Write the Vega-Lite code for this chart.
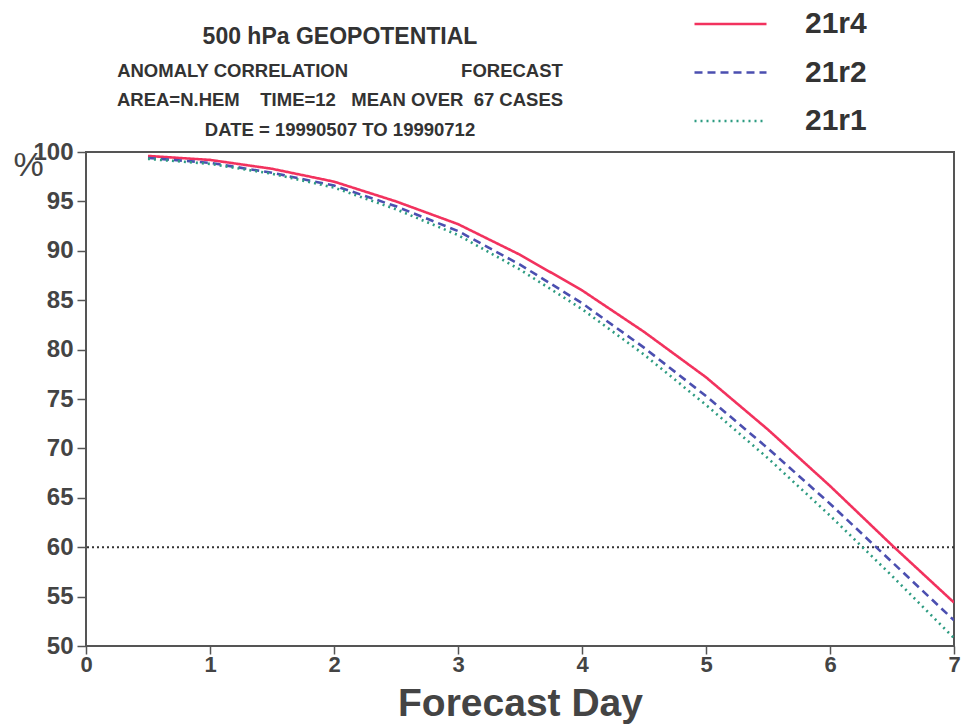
{
  "$schema": "https://vega.github.io/schema/vega-lite/v6.json",
  "autosize": {"type": "none"},
  "padding": {"left": 86, "top": 152, "right": 7, "bottom": 78},
  "width": 868,
  "height": 494,
  "background": "white",
  "config": {
    "font": "Liberation Sans",
    "view": {"stroke": "#555555", "strokeWidth": 2}
  },
  "title": {
    "text": "500 hPa GEOPOTENTIAL",
    "subtitle": [
      "ANOMALY CORRELATION\u00a0\u00a0\u00a0\u00a0\u00a0\u00a0\u00a0\u00a0\u00a0\u00a0\u00a0\u00a0\u00a0\u00a0\u00a0\u00a0\u00a0\u00a0\u00a0\u00a0\u00a0\u00a0FORECAST",
      "AREA=N.HEM\u00a0\u00a0\u00a0\u00a0TIME=12\u00a0\u00a0\u00a0MEAN OVER\u00a0\u00a067 CASES",
      "DATE = 19990507 TO 19990712"
    ],
    "frame": "group",
    "anchor": "start",
    "align": "center",
    "dx": 254,
    "dy": 147,
    "font": "Liberation Sans",
    "fontSize": 23,
    "fontWeight": "bold",
    "color": "#333333",
    "subtitleFont": "Liberation Sans",
    "subtitleFontSize": 18.5,
    "subtitleFontWeight": "bold",
    "subtitleColor": "#333333",
    "subtitleLineHeight": 29.5,
    "subtitlePadding": 13,
    "offset": 10
  },
  "datasets": {
    "scores": [
      {"day": 0.5, "value": 99.6, "exp": "21r4"},
      {"day": 1.0, "value": 99.2, "exp": "21r4"},
      {"day": 1.5, "value": 98.3, "exp": "21r4"},
      {"day": 2.0, "value": 97.0, "exp": "21r4"},
      {"day": 2.5, "value": 95.0, "exp": "21r4"},
      {"day": 3.0, "value": 92.7, "exp": "21r4"},
      {"day": 3.5, "value": 89.6, "exp": "21r4"},
      {"day": 4.0, "value": 86.0, "exp": "21r4"},
      {"day": 4.5, "value": 81.8, "exp": "21r4"},
      {"day": 5.0, "value": 77.2, "exp": "21r4"},
      {"day": 5.5, "value": 71.9, "exp": "21r4"},
      {"day": 6.0, "value": 66.2, "exp": "21r4"},
      {"day": 6.5, "value": 60.2, "exp": "21r4"},
      {"day": 7.0, "value": 54.4, "exp": "21r4"},
      {"day": 0.5, "value": 99.4, "exp": "21r2"},
      {"day": 1.0, "value": 98.9, "exp": "21r2"},
      {"day": 1.5, "value": 97.9, "exp": "21r2"},
      {"day": 2.0, "value": 96.6, "exp": "21r2"},
      {"day": 2.5, "value": 94.5, "exp": "21r2"},
      {"day": 3.0, "value": 92.0, "exp": "21r2"},
      {"day": 3.5, "value": 88.6, "exp": "21r2"},
      {"day": 4.0, "value": 84.7, "exp": "21r2"},
      {"day": 4.5, "value": 80.2, "exp": "21r2"},
      {"day": 5.0, "value": 75.3, "exp": "21r2"},
      {"day": 5.5, "value": 70.0, "exp": "21r2"},
      {"day": 6.0, "value": 64.4, "exp": "21r2"},
      {"day": 6.5, "value": 58.5, "exp": "21r2"},
      {"day": 7.0, "value": 52.6, "exp": "21r2"},
      {"day": 0.5, "value": 99.3, "exp": "21r1"},
      {"day": 1.0, "value": 98.8, "exp": "21r1"},
      {"day": 1.5, "value": 97.8, "exp": "21r1"},
      {"day": 2.0, "value": 96.4, "exp": "21r1"},
      {"day": 2.5, "value": 94.2, "exp": "21r1"},
      {"day": 3.0, "value": 91.6, "exp": "21r1"},
      {"day": 3.5, "value": 88.1, "exp": "21r1"},
      {"day": 4.0, "value": 84.1, "exp": "21r1"},
      {"day": 4.5, "value": 79.5, "exp": "21r1"},
      {"day": 5.0, "value": 74.4, "exp": "21r1"},
      {"day": 5.5, "value": 69.0, "exp": "21r1"},
      {"day": 6.0, "value": 63.2, "exp": "21r1"},
      {"day": 6.5, "value": 57.1, "exp": "21r1"},
      {"day": 7.0, "value": 50.8, "exp": "21r1"}
    ],
    "threshold": [{"level": 60}]
  },
  "layer": [
    {
      "data": {"name": "threshold"},
      "mark": {"type": "rule", "color": "#333333", "strokeWidth": 2, "strokeDash": [2, 3]},
      "encoding": {"y": {"field": "level", "type": "quantitative"}}
    },
    {
      "data": {"name": "scores"},
      "mark": {"type": "line", "strokeWidth": 2.6, "clip": true},
      "encoding": {
        "x": {
          "field": "day",
          "type": "quantitative",
          "scale": {"domain": [0, 7], "nice": false},
          "axis": {
            "title": "Forecast Day",
            "titleFont": "Liberation Sans",
            "titleFontSize": 39,
            "titleFontWeight": "bold",
            "titleColor": "#444444",
            "titlePadding": 9,
            "values": [0, 1, 2, 3, 4, 5, 6, 7],
            "format": "d",
            "grid": false,
            "domain": false,
            "tickColor": "#555555",
            "tickWidth": 1.5,
            "tickSize": 8,
            "labelFontSize": 22,
            "labelFontWeight": "bold",
            "labelColor": "#444444",
            "labelPadding": 0,
            "labelFlush": false,
            "labelOverlap": false
          }
        },
        "y": {
          "field": "value",
          "type": "quantitative",
          "scale": {"domain": [50, 100], "nice": false, "zero": false},
          "axis": {
            "title": "%",
            "titleAngle": 0,
            "titleFontSize": 34,
            "titleFontWeight": "normal",
            "titleColor": "#444444",
            "titleX": -73,
            "titleY": 30,
            "titleAlign": "left",
            "values": [50, 55, 60, 65, 70, 75, 80, 85, 90, 95, 100],
            "grid": false,
            "domain": false,
            "tickColor": "#555555",
            "tickWidth": 1.5,
            "tickSize": 9,
            "labelFontSize": 24,
            "labelFontWeight": "bold",
            "labelColor": "#444444",
            "labelPadding": 4,
            "labelOverlap": false
          }
        },
        "color": {
          "field": "exp",
          "type": "nominal",
          "scale": {"domain": ["21r4", "21r2", "21r1"], "range": ["#f2325e", "#4b4fb0", "#2e9c82"]},
          "legend": {
            "title": null,
            "orient": "none",
            "legendX": 607,
            "legendY": -150,
            "symbolType": "stroke",
            "symbolSize": 5184,
            "symbolStrokeWidth": 2.6,
            "labelFontSize": 30,
            "labelFontWeight": "bold",
            "labelColor": "#333333",
            "labelOffset": 37,
            "clipHeight": 44,
            "rowPadding": 4.5
          }
        },
        "strokeDash": {
          "field": "exp",
          "type": "nominal",
          "scale": {"domain": ["21r4", "21r2", "21r1"], "range": [[1, 0], [8, 5], [2, 4]]},
          "legend": {
            "title": null,
            "orient": "none",
            "legendX": 607,
            "legendY": -150,
            "symbolType": "stroke",
            "symbolSize": 5184,
            "symbolStrokeWidth": 2.6,
            "labelFontSize": 30,
            "labelFontWeight": "bold",
            "labelColor": "#333333",
            "labelOffset": 37,
            "clipHeight": 44,
            "rowPadding": 4.5
          }
        }
      }
    }
  ]
}
